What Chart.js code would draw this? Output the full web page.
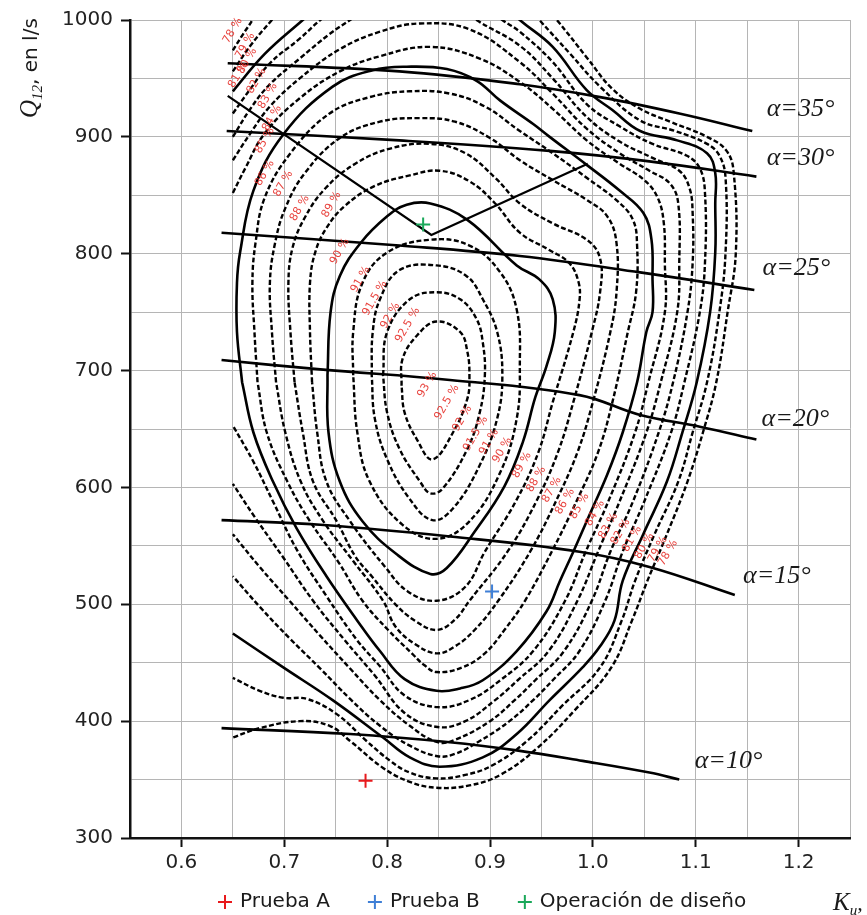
<!DOCTYPE html>
<html>
<head>
<meta charset="utf-8">
<script src="https://cdn.jsdelivr.net/npm/chart.js@4.4.1/dist/chart.umd.min.js"></script>
<style>
  html, body { margin: 0; padding: 0; background: #fff; }
  #wrap { width: 867px; height: 915px; }
</style>
</head>
<body>
<div id="wrap"><canvas id="hill" width="867" height="915"></canvas></div>
<script>
// efficiency contours, [Ku, Q12]
var eff93 = [[0.814,687],[0.815,710],[0.829,730],[0.848,742],[0.871,733],[0.878,716],[0.880,696],[0.878,676],[0.864,647],[0.844,624],[0.829,641],[0.817,664],[0.814,687]];
var eff925 = [[0.796,696],[0.800,733],[0.822,761],[0.848,767],[0.871,761],[0.887,744],[0.893,724],[0.895,696],[0.890,664],[0.878,633],[0.854,599],[0.842,595],[0.832,605],[0.812,633],[0.800,664],[0.796,696]];
var eff92 = [[0.785,696],[0.786,733],[0.793,761],[0.812,786],[0.848,790],[0.877,781],[0.893,761],[0.907,733],[0.912,696],[0.907,659],[0.890,619],[0.864,582],[0.844,572],[0.822,590],[0.800,624],[0.788,659],[0.785,696]];
var eff91 = [[0.767,696],[0.767,733],[0.776,775],[0.800,801],[0.842,812],[0.880,807],[0.910,784],[0.926,752],[0.929,704],[0.926,659],[0.910,613],[0.880,571],[0.848,556],[0.815,568],[0.783,605],[0.771,647],[0.767,696]];
var eff90 = [[0.742,696],[0.745,750],[0.754,781],[0.774,809],[0.800,832],[0.819,842],[0.842,843],[0.878,829],[0.926,790],[0.948,778],[0.961,761],[0.963,733],[0.955,704],[0.944,677],[0.932,639],[0.914,601],[0.885,562],[0.858,531],[0.842,526],[0.809,543],[0.776,571],[0.754,605],[0.743,647],[0.742,696]];
var eff89 = [[0.727,690],[0.725,733],[0.725,775],[0.730,801],[0.741,822],[0.759,841],[0.788,858],[0.822,867],[0.851,871],[0.880,862],[0.905,843],[0.929,818],[0.958,803],[0.977,792],[0.986,776],[0.987,760],[0.981,733],[0.961,673],[0.947,630],[0.925,588],[0.895,545],[0.876,515],[0.848,503],[0.820,511],[0.798,532],[0.764,571],[0.741,605],[0.732,647],[0.727,690]];
var eff88 = [[0.710,690],[0.706,733],[0.704,775],[0.708,805],[0.720,831],[0.740,856],[0.769,877],[0.803,890],[0.842,894],[0.876,886],[0.905,865],[0.929,843],[0.961,826],[0.994,812],[1.007,796],[1.007,767],[0.999,733],[0.981,673],[0.966,630],[0.945,588],[0.917,545],[0.880,503],[0.866,487],[0.848,478],[0.827,486],[0.808,500],[0.785,524],[0.769,541],[0.751,571],[0.728,605],[0.718,647],[0.710,690]];
var eff87 = [[0.692,690],[0.688,733],[0.686,775],[0.691,809],[0.701,839],[0.720,869],[0.754,899],[0.793,913],[0.832,916],[0.866,913],[0.900,899],[0.929,880],[0.961,863],[0.994,846],[1.014,832],[1.023,809],[1.023,767],[1.017,733],[1.000,673],[0.985,630],[0.964,588],[0.939,545],[0.908,503],[0.885,478],[0.866,464],[0.848,458],[0.827,466],[0.808,481],[0.796,503],[0.767,537],[0.738,571],[0.716,605],[0.701,647],[0.692,690]];
var eff86 = [[0.674,690],[0.671,733],[0.669,775],[0.672,809],[0.681,848],[0.706,886],[0.744,920],[0.783,934],[0.822,939],[0.861,937],[0.895,926],[0.929,905],[0.961,886],[0.994,865],[1.024,845],[1.039,829],[1.043,807],[1.042,767],[1.034,733],[1.019,673],[1.005,630],[0.984,588],[0.960,545],[0.934,503],[0.914,478],[0.895,458],[0.873,446],[0.848,442],[0.836,448],[0.824,458],[0.801,478],[0.776,503],[0.752,537],[0.725,571],[0.703,605],[0.683,647],[0.674,690]];
var eff85 = [[0.659,690],[0.654,733],[0.654,775],[0.657,801],[0.670,854],[0.699,902],[0.747,943],[0.786,957],[0.819,960],[0.858,958],[0.887,948],[0.910,931],[0.942,911],[0.958,900],[0.994,876],[1.026,854],[1.049,835],[1.057,812],[1.058,778],[1.058,750],[1.052,733],[1.043,690],[1.029,647],[1.014,611],[0.997,577],[0.981,545],[0.968,520],[0.955,494],[0.926,460],[0.893,435],[0.871,428],[0.848,426],[0.817,436],[0.793,460],[0.771,486],[0.741,524],[0.712,565],[0.689,605],[0.670,647],[0.659,690]];
var eff84 = [[0.650,852],[0.662,873],[0.681,903],[0.715,933],[0.754,956],[0.793,969],[0.842,977],[0.890,967],[0.929,947],[0.961,924],[0.994,897],[1.026,877],[1.050,863],[1.063,848],[1.069,826],[1.070,792],[1.070,750],[1.054,690],[1.041,647],[1.015,588],[0.993,545],[0.973,503],[0.942,460],[0.910,435],[0.880,418],[0.849,412],[0.817,422],[0.793,447],[0.771,469],[0.741,507],[0.712,547],[0.689,588],[0.670,622],[0.650,653]];
var eff83 = [[0.650,880],[0.667,903],[0.686,926],[0.715,950],[0.754,975],[0.793,990],[0.832,997],[0.880,992],[0.929,964],[0.961,937],[0.994,907],[1.026,886],[1.055,871],[1.075,860],[1.083,843],[1.084,792],[1.082,750],[1.066,690],[1.052,647],[1.026,588],[1.005,545],[0.985,503],[0.957,460],[0.927,435],[0.905,418],[0.876,400],[0.849,395],[0.817,407],[0.788,439],[0.759,469],[0.728,503],[0.699,540],[0.671,575],[0.650,603]];
var eff82a = [[0.650,900],[0.667,924],[0.686,945],[0.715,967],[0.744,988],[0.764,1000],[0.778,1008]];
var eff82 = [[0.876,1009],[0.887,1000],[0.929,978],[0.961,950],[0.994,917],[1.026,896],[1.058,882],[1.084,871],[1.094,856],[1.097,835],[1.097,792],[1.092,750],[1.078,690],[1.064,647],[1.039,588],[1.017,545],[0.999,503],[0.972,460],[0.944,435],[0.924,418],[0.900,400],[0.866,384],[0.849,382],[0.822,396],[0.793,418],[0.764,445],[0.735,473],[0.705,503],[0.676,532],[0.650,560]];
var eff81a = [[0.650,920],[0.667,941],[0.686,963],[0.715,984],[0.735,1000],[0.749,1009]];
var eff81 = [[0.900,1009],[0.912,1000],[0.929,990],[0.961,964],[0.994,928],[1.026,909],[1.058,894],[1.091,884],[1.104,873],[1.109,852],[1.109,792],[1.104,750],[1.089,690],[1.076,647],[1.050,588],[1.029,545],[1.012,503],[0.987,460],[0.961,435],[0.942,418],[0.919,400],[0.890,383],[0.866,372],[0.849,370],[0.822,379],[0.793,396],[0.764,419],[0.735,445],[0.705,471],[0.676,498],[0.650,524]];
var eff80a = [[0.650,939],[0.681,971],[0.718,1000],[0.730,1009]];
var eff80 = [[0.919,1009],[0.929,1000],[0.961,977],[0.994,940],[1.019,923],[1.046,905],[1.082,897],[1.111,886],[1.119,869],[1.119,843],[1.119,801],[1.114,750],[1.101,690],[1.087,647],[1.072,605],[1.049,560],[1.029,520],[1.021,486],[1.007,464],[0.990,446],[0.958,418],[0.926,389],[0.893,369],[0.851,361],[0.822,369],[0.796,386],[0.747,418],[0.699,446],[0.650,475]];
var eff79a = [[0.650,956],[0.667,978],[0.688,1000],[0.698,1009]];
var eff79 = [[0.939,1009],[0.948,1000],[0.978,971],[1.007,943],[1.046,914],[1.080,905],[1.111,894],[1.123,884],[1.129,865],[1.129,801],[1.123,750],[1.111,690],[1.097,647],[1.083,605],[1.060,560],[1.041,520],[1.028,486],[1.007,446],[0.970,413],[0.936,383],[0.902,362],[0.876,354],[0.848,351],[0.822,356],[0.803,366],[0.780,383],[0.751,406],[0.722,419],[0.699,420],[0.676,426],[0.650,437]];
var eff78a = [[0.650,974],[0.660,988],[0.669,1000],[0.674,1009]];
var eff78 = [[0.955,1009],[0.965,1000],[0.994,968],[1.019,941],[1.046,924],[1.075,913],[1.111,900],[1.130,888],[1.137,869],[1.139,801],[1.131,750],[1.120,690],[1.107,647],[1.092,605],[1.072,560],[1.053,520],[1.038,486],[1.018,446],[0.982,409],[0.946,377],[0.910,354],[0.880,345],[0.848,343],[0.822,348],[0.796,360],[0.764,383],[0.744,396],[0.715,400],[0.676,394],[0.650,386]];

// guide vane opening lines
var alpha35 = [[0.645,963],[0.812,956],[0.929,945],[1.007,934],[1.084,920],[1.155,905]];
var alpha30 = [[0.644,905],[0.812,897],[0.958,888],[1.055,879],[1.159,866]];
var alpha25 = [[0.639,818],[0.812,807],[0.929,798],[1.046,784],[1.157,769]];
var alpha20 = [[0.639,709],[0.735,701],[0.861,692],[0.987,679],[1.046,662],[1.104,652],[1.159,641]];
var alpha15 = [[0.639,572],[0.735,568],[0.861,558],[0.987,545],[1.055,532],[1.138,508]];
var alpha10 = [[0.639,394],[0.764,389],[0.861,382],[0.926,375],[0.990,366],[1.055,356],[1.084,350]];
var vLine = [[0.645,935],[0.843,816],[0.995,877]];

// operating points
var pruebaA = [[0.779,349]];
var pruebaB = [[0.902,511]];
var diseno = [[0.835,825]];

// contour labels [Ku, Q12, text]
var tagsUpper = [[0.650,991,'78 %'],[0.662,978,'79 %'],[0.664,965,'80 %'],[0.655,953,'81 %'],[0.673,948,'82 %'],[0.684,935,'83 %'],[0.688,916,'84 %'],[0.681,897,'85 %'],[0.681,869,'86 %'],[0.699,860,'87 %'],[0.715,839,'88 %'],[0.746,842,'89 %'],[0.754,802,'90 %'],[0.774,778,'91 %'],[0.788,762,'91.5 %'],[0.803,747,'92 %'],[0.820,739,'92.5 %']];
var tagsLower = [[0.839,688,'93 %'],[0.858,673,'92.5 %'],[0.873,659,'92 %'],[0.886,646,'91.5 %'],[0.899,639,'91 %'],[0.912,632,'90 %'],[0.931,619,'89 %'],[0.945,607,'88 %'],[0.960,598,'87 %'],[0.973,588,'86 %'],[0.987,584,'85 %'],[1.002,578,'84 %'],[1.015,567,'83 %'],[1.027,562,'82 %'],[1.038,556,'81 %'],[1.050,550,'80 %'],[1.063,547,'79 %'],[1.073,544,'78 %']];
var alphaTags = [[1.169,924,'α=35°'],[1.169,882,'α=30°'],[1.165,788,'α=25°'],[1.164,658,'α=20°'],[1.146,524,'α=15°'],[1.099,366,'α=10°']];

function pts(arr) { return arr.map(function(p){ return { x: p[0], y: p[1] }; }); }

function curve(arr, solid) {
  return {
    data: pts(arr), showLine: true, pointRadius: 0, fill: false,
    borderColor: '#000', borderWidth: solid ? 2.6 : 2.4,
    borderDash: solid ? [] : [5, 2.5], tension: 0.4
  };
}

function marker(arr, label, color) {
  return {
    label: label, data: pts(arr), showLine: false, pointStyle: 'cross',
    pointRadius: 7, pointBorderWidth: 2, borderColor: color, backgroundColor: color
  };
}

var markers = [
  marker(pruebaA, 'Prueba A', '#e8191c'),
  marker(pruebaB, 'Prueba B', '#3f7fd6'),
  marker(diseno, 'Operación de diseño', '#1aa85a')
];

var lines = [
  curve(eff93, false), curve(eff925, false), curve(eff92, false), curve(eff91, false),
  curve(eff90, true), curve(eff89, false), curve(eff88, false), curve(eff87, false), curve(eff86, false),
  curve(eff85, true), curve(eff84, false), curve(eff83, false),
  curve(eff82a, false), curve(eff82, false), curve(eff81a, false), curve(eff81, false),
  curve(eff80a, true), curve(eff80, true), curve(eff79a, false), curve(eff79, false),
  curve(eff78a, false), curve(eff78, false),
  curve(alpha35, true), curve(alpha30, true), curve(alpha25, true),
  curve(alpha20, true), curve(alpha15, true), curve(alpha10, true)
];
var v = curve(vLine, true);
v.tension = 0; v.borderWidth = 2.2;
lines.push(v);

function isMajorX(val) { var n = Math.round(val * 100); return n % 10 === 0 && n >= 60 && n <= 120; }

var textPlugin = {
  id: 'hillText',
  afterDatasetsDraw: function(chart) {
    var ctx = chart.ctx, xs = chart.scales.x, ys = chart.scales.y;
    ctx.save();
    ctx.font = '11px "DejaVu Sans"';
    ctx.fillStyle = 'rgba(230,45,40,0.9)';
    ctx.textAlign = 'center';
    ctx.textBaseline = 'middle';
    tagsUpper.concat(tagsLower).forEach(function(t) {
      ctx.save();
      ctx.translate(xs.getPixelForValue(t[0]), ys.getPixelForValue(t[1]));
      ctx.rotate(-60 * Math.PI / 180);
      ctx.fillText(t[2], 0, 0);
      ctx.restore();
    });
    ctx.font = 'italic 26px "Liberation Serif"';
    ctx.fillStyle = '#1a1a1a';
    ctx.textAlign = 'left';
    alphaTags.forEach(function(t) {
      ctx.fillText(t[2], xs.getPixelForValue(t[0]), ys.getPixelForValue(t[1]));
    });
    ctx.restore();
  },
  afterDraw: function(chart) {
    var ctx = chart.ctx;
    ctx.save();
    ctx.fillStyle = '#1a1a1a';
    ctx.textBaseline = 'alphabetic';
    // y axis title, rotated
    ctx.translate(37, 118);
    ctx.rotate(-Math.PI / 2);
    ctx.font = 'italic 25px "Liberation Serif"';
    ctx.fillText('Q', 0, 0);
    var w = ctx.measureText('Q').width;
    ctx.font = 'italic 15px "Liberation Serif"';
    ctx.fillText('12', w, 5);
    w += ctx.measureText('12').width;
    ctx.font = '20px "DejaVu Sans"';
    ctx.fillText(', en l/s', w, 0);
    ctx.restore();

    // x axis title
    ctx.save();
    ctx.fillStyle = '#1a1a1a';
    ctx.font = 'italic 25px "Liberation Serif"';
    ctx.fillText('K', 833, 910);
    var kw = ctx.measureText('K').width;
    ctx.font = 'italic 15px "Liberation Serif"';
    ctx.fillText('u', 833 + kw, 915);
    var uw = ctx.measureText('u').width;
    ctx.font = 'italic 22px "Liberation Serif"';
    ctx.fillText(',', 833 + kw + uw, 910);
    ctx.restore();

    // legend for the operating points
    ctx.save();
    ctx.font = '20px "DejaVu Sans"';
    ctx.textBaseline = 'middle';
    var x = 218, y = 902;
    markers.forEach(function(m) {
      ctx.strokeStyle = m.borderColor;
      ctx.lineWidth = 2;
      ctx.beginPath();
      ctx.moveTo(x, y); ctx.lineTo(x + 14, y);
      ctx.moveTo(x + 7, y - 7); ctx.lineTo(x + 7, y + 7);
      ctx.stroke();
      ctx.fillStyle = '#1a1a1a';
      ctx.fillText(m.label, x + 22, y);
      x += 22 + ctx.measureText(m.label).width + 38;
    });
    ctx.restore();
  }
};

new Chart(document.getElementById('hill'), {
  type: 'scatter',
  data: { datasets: markers.concat(lines) },
  options: {
    responsive: false,
    animation: false,
    events: [],
    layout: { padding: { top: 16, right: 17, left: 0, bottom: 0 } },
    plugins: { legend: { display: false }, tooltip: { enabled: false } },
    scales: {
      x: {
        type: 'linear', min: 0.55, max: 1.25,
        afterFit: function(s) { s.height = 77; },
        ticks: {
          stepSize: 0.05, color: '#222', padding: 4,
          font: { family: 'DejaVu Sans', size: 20 },
          maxRotation: 0, autoSkip: false,
          callback: function(val) { return isMajorX(val) ? val.toFixed(1) : ''; }
        },
        grid: {
          color: '#b5b5b5', lineWidth: 1, tickLength: 9, tickWidth: 2,
          tickColor: function(c) { return c.tick && isMajorX(c.tick.value) ? '#111' : 'rgba(0,0,0,0)'; }
        },
        border: { color: '#111', width: 2.5 }
      },
      y: {
        type: 'linear', min: 300, max: 1000,
        afterFit: function(s) { s.width = 130; },
        ticks: {
          stepSize: 50, color: '#222', padding: 8,
          font: { family: 'DejaVu Sans', size: 20 },
          autoSkip: false,
          callback: function(val) { return val % 100 === 0 ? String(val) : ''; }
        },
        grid: {
          color: '#b5b5b5', lineWidth: 1, tickLength: 9, tickWidth: 2,
          tickColor: function(c) { return c.tick && c.tick.value % 100 === 0 ? '#111' : 'rgba(0,0,0,0)'; }
        },
        border: { color: '#111', width: 2.5 }
      }
    }
  },
  plugins: [textPlugin]
});
</script>
</body>
</html>
